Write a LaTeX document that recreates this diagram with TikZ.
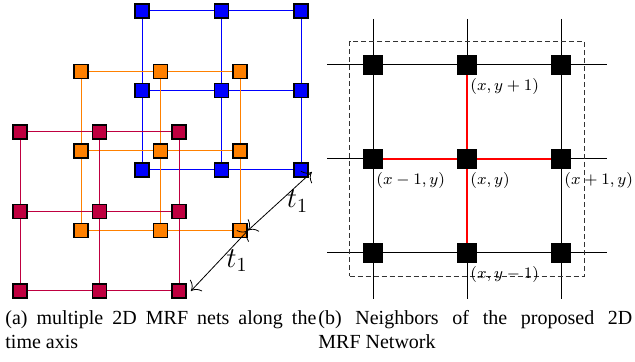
\documentclass[tikz,border=0pt]{standalone}
\usepackage{fontspec}
\newfontfamily\capfont{Liberation Serif}
\usepackage{tikz}
\usetikzlibrary{calc,fit,backgrounds,arrows.meta}

\tikzset{
  mrf/.style={draw=black, line width=0.9pt, minimum size=7pt, inner sep=0pt},
  site/.style={fill=black, minimum size=10pt, inner sep=0pt},
  nbr/.style={font=\footnotesize, inner sep=1.5pt, anchor=north west},
  subcap/.style={font=\capfont\fontsize{10}{12}\selectfont, align=justify, inner sep=0pt, anchor=base west},
}

\begin{document}
\begin{tikzpicture}[x=0.5pt, y=0.5pt, >={To[scale=1.6]}]
  \useasboundingbox (0,0) rectangle (635,362);

  % time slices, back to front
  \foreach \layer/\col in {2/blue, 1/orange, 0/purple} {
    \foreach \i in {0,1,2}
      \foreach \j in {0,1,2}
        \node[mrf, fill=\col] (n\layer\i\j) at ({20+61*\layer+79.5*\i}, {71+60.5*\layer+79.5*\j}) {};
    \foreach \k in {0,1,2} {
      \draw[\col, line width=0.5pt] (n\layer\k0) -- (n\layer\k1) -- (n\layer\k2);
      \draw[\col, line width=0.5pt] (n\layer0\k) -- (n\layer1\k) -- (n\layer2\k);
    }
  }
  \draw[<->] ([xshift=1.5pt,yshift=-1pt]n220.east) -- node[right, font=\Large] (ta) {$t_1$} (n120.east);
  \draw[<->] (n120.east) -- node[right, font=\Large] (tb) {$t_1$} ([xshift=2pt]n020.east);

  % neighbourhood grid
  \foreach \i in {0,1,2}
    \foreach \j in {0,1,2}
      \node[site] (g\i\j) at ({373+94*\i}, {109+94*\j}) {};
  \begin{scope}[on background layer]
    \foreach \k in {0,1,2} {
      \draw[line width=0.5pt] ([xshift=-23pt]g0\k.center) -- ([xshift=23pt]g2\k.center);
      \draw[line width=0.5pt] ([yshift=23pt]g\k2.center) -- ([yshift=-23pt]g\k0.center);
    }
  \end{scope}
  \draw[red, line width=0.6pt] (g10) -- (g11) -- (g12);
  \draw[red, line width=0.6pt] (g01) -- (g11) -- (g21);
  \node[draw, black!80, dash pattern=on 2.5pt off 1.5pt, fit=(g00)(g22), inner sep=6.5pt] (win) {};

  \node[nbr] (up) at (g12.south) {$(x,y+1)$};
  \node[nbr] (lt) at (g01.south) {$(x-1,y)$};
  \node[nbr] (md) at (g11.south) {$(x,y)$};
  \node[nbr] (rt) at (g21.south) {$(x+1,y)$};
  \node[nbr] (dn) at (g10.south) {$(x,y-1)$};

  % sub-captions
  \node[subcap, text width=155.5pt] (capa) at (5,37.5) {(a) multiple 2D MRF nets along the\linebreak time axis};
  \node[subcap, text width=157pt] (capb) at (318,37.5) {(b) Neighbors of the proposed 2D\linebreak MRF Network};
\end{tikzpicture}
\end{document}
